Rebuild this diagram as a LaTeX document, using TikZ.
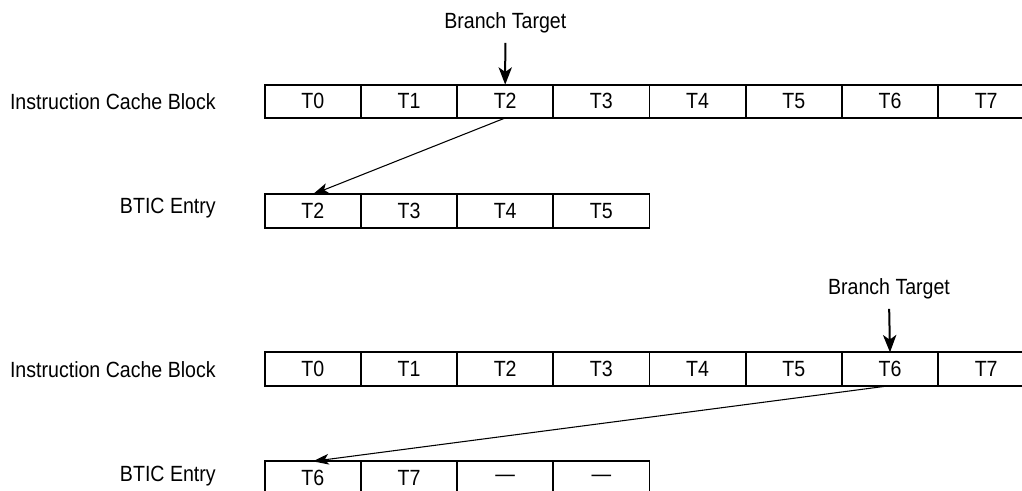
\documentclass[tikz,border=0pt]{standalone}
\usepackage{fontspec}
\setmainfont[FakeStretch=0.89]{Liberation Sans}
\usepackage{tikz}
\usetikzlibrary{arrows.meta,positioning}

\begin{document}
\begin{tikzpicture}[x=0.75pt, y=-0.75pt,
      cell/.style={rectangle, draw=black, line width=1.4pt,
                   minimum width=72.15pt, minimum height=25pt,
                   inner sep=0pt, outer sep=0pt,
                   font=\fontsize{16.5}{19}\selectfont},
      rowlabel/.style={font=\fontsize{16.5}{19}\selectfont, inner sep=0pt,
                       anchor=east},
      btlabel/.style={font=\fontsize{16.5}{19}\selectfont, inner sep=0pt},
      arrow/.style={-{Stealth[length=13pt, width=10pt, inset=3.5pt]},
                    line width=1.5pt},
      darrow/.style={-{Stealth[length=12pt, width=8pt, inset=3pt]},
                     line width=0.8pt},
    ]
      \useasboundingbox (0,0) rectangle (1022,491);
      \clip (0,0) rectangle (1022,491);
      %% First example: branch target T2
      \foreach \i in {0,...,7}{
        \pgfmathsetmacro{\xpos}{264.7 + 48.1 + \i*96.2}
        \node[cell] (icA\i) at (\xpos, 101.3) {T\i};
      }
      \node[rowlabel] at (216, 102) {Instruction Cache Block};
      \foreach \i/\name in {0/T2, 1/T3, 2/T4, 3/T5}{
        \pgfmathsetmacro{\xpos}{264.7 + 48.1 + \i*96.2}
        \node[cell] (btA\i) at (\xpos, 211) {\name};
      }
      \node[rowlabel] at (216, 208) {BTIC Entry};
      \node[btlabel] (tgtA) at (505.3, 23) {Branch Target};
      \draw[arrow, shorten <=7pt] (tgtA.south) -- (icA2.north);
      \draw[darrow] (icA2.south) -- (btA0.north);
      %% Second example: branch target T6
      \foreach \i in {0,...,7}{
        \pgfmathsetmacro{\xpos}{264.7 + 48.1 + \i*96.2}
        \node[cell] (icB\i) at (\xpos, 369) {T\i};
      }
      \node[rowlabel] at (216, 370) {Instruction Cache Block};
      \foreach \i/\name in {0/T6, 1/T7, 2/---, 3/---}{
        \pgfmathsetmacro{\xpos}{264.7 + 48.1 + \i*96.2}
        \node[cell] (btB\i) at (\xpos, 478) {\name};
      }
      \node[rowlabel] at (216, 476) {BTIC Entry};
      \node[btlabel] (tgtB) at (889, 289) {Branch Target};
      \draw[arrow, shorten <=7pt] (tgtB.south) -- (icB6.north);
      \draw[darrow] (icB6.south) -- (btB0.north);
\end{tikzpicture}
\end{document}
